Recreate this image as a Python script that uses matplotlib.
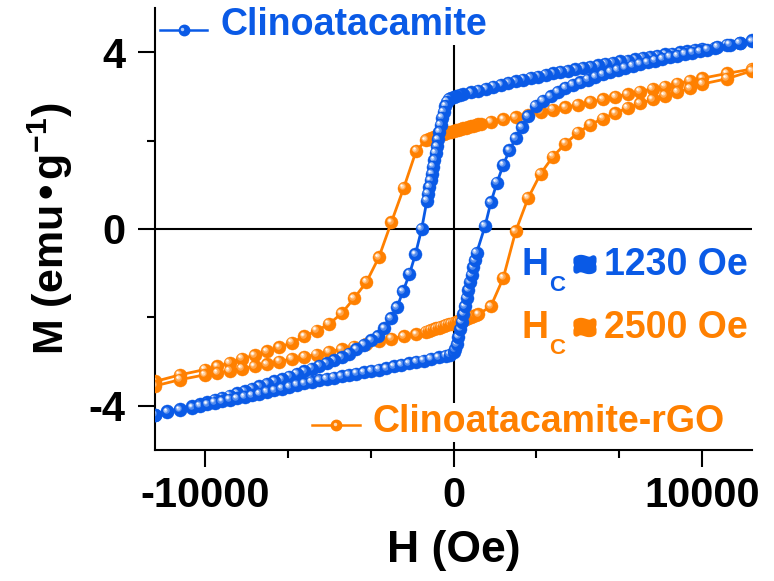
import matplotlib
matplotlib.use("Agg")
import matplotlib.pyplot as plt
from matplotlib.lines import Line2D
from matplotlib.ticker import FixedLocator, MultipleLocator
from matplotlib.transforms import offset_copy
import matplotlib.patheffects as pe
from matplotlib.colors import to_rgb

plt.rcParams['font.family'] = ['Liberation Sans', 'DejaVu Sans']
plt.rcParams['font.weight'] = 'bold'
plt.rcParams['mathtext.default'] = 'regular'
plt.rcParams['axes.unicode_minus'] = False

BLUE = '#0A5AE6'
ORANGE = '#FF8000'

# ---- Clinoatacamite (blue) ----
blue_desc_H = [12000, 11500, 11000, 10500,
               10000, 9700, 9400, 9100, 8800, 8500, 8200, 7900, 7600, 7300,
               7000, 6700, 6400, 6100, 5800, 5500, 5200, 4900, 4600, 4300,
               4000, 3700, 3400, 3100, 2800, 2500, 2200, 1900, 1600, 1300,
               1000, 700, 400,
               250, 100, 0, -100, -180, -260, -330, -400, -460, -520,
               -570, -620, -670, -720, -770, -820, -870, -920, -970, -1020, -1070,
               -1280, -1530, -1770, -2030, -2270, -2520, -2780, -3040,
               -3300, -3600, -3900, -4200, -4500, -4800, -5100, -5400, -5700, -6000,
               -6300, -6600, -6900, -7200, -7500, -7800, -8100, -8400, -8700, -9000,
               -9300, -9600, -9900, -10200,
               -10500, -11000, -11500, -12000]
blue_desc_M = [4.27, 4.21, 4.16, 4.10,
               4.07, 4.05, 4.02, 4.00, 3.97, 3.95, 3.92, 3.89, 3.87, 3.84,
               3.81, 3.79, 3.76, 3.73, 3.70, 3.67, 3.64, 3.61, 3.58, 3.55,
               3.52, 3.49, 3.45, 3.42, 3.38, 3.34, 3.30, 3.26, 3.22, 3.17,
               3.13, 3.09, 3.05,
               3.03, 3.01, 2.99, 2.97, 2.94, 2.88, 2.78, 2.65, 2.52, 2.35,
               2.20, 2.03, 1.87, 1.72, 1.56, 1.41, 1.25, 1.10, 0.95, 0.80, 0.64,
               0.00, -0.57, -1.02, -1.41, -1.77, -2.02, -2.25, -2.43,
               -2.52, -2.62, -2.72, -2.82, -2.90, -2.97, -3.04, -3.10, -3.16, -3.22,
               -3.28, -3.34, -3.40, -3.45, -3.51, -3.56, -3.62, -3.67, -3.72, -3.77,
               -3.82, -3.87, -3.92, -3.97,
               -4.01, -4.07, -4.12, -4.20]

blue_asc_H = [-12000, -11500, -11000, -10500,
              -10200, -9900, -9600, -9300, -9000, -8700, -8400, -8100, -7800, -7500,
              -7200, -6900, -6600, -6300, -6000, -5700, -5400, -5100, -4800, -4500,
              -4200, -3900, -3600, -3300, -3000, -2700, -2400, -2100, -1800, -1500,
              -1200, -900, -600, -300,
              -150, 0, 60, 130, 200, 270, 330, 400, 460, 530, 600, 670, 730, 800,
              860, 930,
              1270, 1500, 1750, 2000, 2250, 2500, 2750, 3000,
              3300, 3600, 3900, 4200, 4500, 4800, 5100, 5400, 5700, 6000,
              6300, 6600, 6900, 7200, 7500, 7800, 8100, 8400, 8700, 9000,
              9300, 9600, 9900, 10200,
              10600, 11100, 11500, 12000]
blue_asc_M = [-4.20, -4.14, -4.09, -4.04,
              -4.00, -3.97, -3.93, -3.90, -3.86, -3.83, -3.80, -3.76, -3.73, -3.69,
              -3.65, -3.61, -3.57, -3.53, -3.49, -3.46, -3.42, -3.39, -3.36, -3.33,
              -3.30, -3.27, -3.24, -3.21, -3.18, -3.15, -3.11, -3.08, -3.04, -3.01,
              -2.98, -2.94, -2.90, -2.87,
              -2.84, -2.79, -2.72, -2.61, -2.44, -2.26, -2.10, -1.92, -1.75, -1.56,
              -1.38, -1.20, -1.04, -0.87, -0.71, -0.54,
              0.07, 0.60, 1.05, 1.45, 1.78, 2.05, 2.30, 2.55,
              2.78, 2.90, 3.00, 3.10, 3.19, 3.26, 3.32, 3.38, 3.44, 3.50,
              3.55, 3.60, 3.64, 3.69, 3.73, 3.77, 3.81, 3.85, 3.89, 3.92,
              3.96, 3.99, 4.02, 4.06,
              4.12, 4.17, 4.21, 4.25]

# ---- Clinoatacamite-rGO (orange) ----
orange_desc_H = [12000, 11000, 10000, 9500, 9000, 8500, 8000, 7500, 7000, 6500,
                 6000, 5500, 5000, 4500, 4000, 3500, 3000, 2500, 2000, 1500,
                 1100, 1000, 900, 800, 700, 600, 500, 400, 300, 200, 100, 0,
                 -100, -200, -300, -400, -500, -600, -700, -800, -900, -1000, -1100,
                 -1500, -2000, -2500, -3000, -3500, -4000, -4500, -5000, -5500,
                 -6000, -6500, -7000, -7500, -8000, -8500, -9000, -9500, -10000,
                 -11000, -12000]
orange_desc_M = [3.62, 3.52, 3.41, 3.35, 3.29, 3.22, 3.17, 3.11, 3.05, 2.99,
                 2.93, 2.87, 2.81, 2.75, 2.70, 2.65, 2.59, 2.53, 2.48, 2.42,
                 2.38, 2.37, 2.35, 2.34, 2.32, 2.31, 2.29, 2.28, 2.26, 2.25, 2.23, 2.22,
                 2.20, 2.19, 2.17, 2.16, 2.14, 2.12, 2.11, 2.09, 2.07, 2.04, 2.01,
                 1.77, 0.93, 0.15, -0.64, -1.20, -1.57, -1.91, -2.15, -2.30,
                 -2.43, -2.57, -2.68, -2.77, -2.86, -2.93, -3.03, -3.11, -3.18,
                 -3.30, -3.45]

orange_asc_H = [-12000, -11000, -10000, -9500, -9000, -8500, -8000, -7500, -7000, -6500,
                -6000, -5500, -5000, -4500, -4000, -3500, -3000, -2500, -2000, -1500,
                -1100, -1000, -900, -800, -700, -600, -500, -400, -300, -200, -100,
                0, 100, 200, 300, 400, 500, 600, 700, 800, 900, 1000,
                1500, 2000, 2500, 3000, 3500, 4000, 4500, 5000, 5500,
                6000, 6500, 7000, 7500, 8000, 8500, 9000, 9500, 10000,
                11000, 12000]
orange_asc_M = [-3.55, -3.41, -3.30, -3.26, -3.21, -3.16, -3.11, -3.06, -3.00, -2.94,
                -2.89, -2.84, -2.78, -2.72, -2.66, -2.60, -2.54, -2.48, -2.43, -2.38,
                -2.32, -2.30, -2.28, -2.26, -2.25, -2.23, -2.21, -2.19, -2.17, -2.15, -2.14,
                -2.12, -2.10, -2.08, -2.06, -2.04, -2.03, -2.01, -1.99, -1.97, -1.95, -1.93,
                -1.75, -1.11, -0.05, 0.70, 1.25, 1.64, 1.93, 2.18, 2.36,
                2.50, 2.62, 2.74, 2.84, 2.93, 3.02, 3.10, 3.18, 3.28,
                3.40, 3.58]

labels = ['Clinoatacamite', 'Clinoatacamite-rGO']
hc_values = ['1230 Oe', '2500 Oe']
x_ticks = [-10000, 0, 10000]
y_ticks = [-4, 0, 4]

W, Hh = 774, 581
fig = plt.figure(figsize=(W / 100, Hh / 100), dpi=100)
ax = fig.add_axes([155 / W, 1 - 450 / Hh, 597 / W, 442 / Hh])
ax.set_xlim(-12000, 12000)
ax.set_ylim(-5, 5)


def px(x, y):
    return (x / W, 1 - y / Hh)


def lighten(c, f):
    r, g, b = to_rgb(c)
    return (r + (1 - r) * f, g + (1 - g) * f, b + (1 - b) * f)


def darken(c, f):
    r, g, b = to_rgb(c)
    return (r * (1 - f), g * (1 - f), b * (1 - f))


tr_hi1 = offset_copy(ax.transData, fig=fig, x=-1.2, y=1.2, units='points')
tr_hi2 = offset_copy(ax.transData, fig=fig, x=-1.6, y=1.6, units='points')
tr_hi3 = offset_copy(ax.transData, fig=fig, x=-1.9, y=1.9, units='points')

MS = 9.4


def sphere_series(H, M, color, z0):
    ax.plot(H, M, '-', color=color, lw=2.0, zorder=z0, solid_capstyle='round')
    mid = lighten(color, 0.3)
    light = lighten(color, 0.65)
    z = z0 + 0.001
    for h, m in zip(H, M):
        ax.plot([h], [m], 'o', ms=MS, mfc=color, mec=color, mew=0.3, zorder=z)
        ax.plot([h], [m], 'o', ms=MS * 0.5, mfc=mid, mec='none', zorder=z + 0.0001,
                transform=tr_hi1)
        ax.plot([h], [m], 'o', ms=MS * 0.32, mfc=light, mec='none', zorder=z + 0.0002,
                transform=tr_hi2)
        ax.plot([h], [m], 'o', ms=MS * 0.17, mfc='white', mec='none', zorder=z + 0.0003,
                transform=tr_hi3)
        z += 0.001


sphere_series(orange_desc_H, orange_desc_M, ORANGE, 3)
sphere_series(orange_asc_H, orange_asc_M, ORANGE, 4)
sphere_series(blue_desc_H, blue_desc_M, BLUE, 5)
sphere_series(blue_asc_H, blue_asc_M, BLUE, 6)

ax.axhline(0, color='black', lw=1.5, zorder=1)
ax.axvline(0, color='black', lw=1.5, zorder=1)

for s in ['top', 'right']:
    ax.spines[s].set_visible(False)
for s in ['left', 'bottom']:
    ax.spines[s].set_linewidth(1.5)

ax.xaxis.set_major_locator(FixedLocator(x_ticks))
ax.xaxis.set_minor_locator(MultipleLocator(10000 / 3))
ax.yaxis.set_major_locator(FixedLocator(y_ticks))
ax.yaxis.set_minor_locator(MultipleLocator(2))
ax.tick_params(axis='both', which='major', direction='out', length=12, width=1.5,
               labelsize=30)
ax.tick_params(axis='both', which='minor', direction='out', length=6, width=1.5)
ax.tick_params(axis='x', which='major', pad=7)
ax.tick_params(axis='y', which='major', pad=9)
for lab in ax.get_xticklabels() + ax.get_yticklabels():
    lab.set_fontweight('bold')

ax.set_xlabel('H (Oe)', fontsize=32, fontweight='bold', labelpad=10)
ax.set_ylabel('M (emu•g$^{-1}$)', fontsize=31, fontweight='bold', labelpad=10)


def legend_entry(x0, x1, y, tx, ty, text, color):
    fig.add_artist(Line2D([x0 / W, x1 / W], [1 - y / Hh, 1 - y / Hh], color=color,
                          lw=1.8, transform=fig.transFigure, zorder=20))
    xm = (x0 + x1) / 2
    fig.add_artist(Line2D([xm / W], [1 - y / Hh], marker='o', ms=7.5, color=color,
                          mec=color, transform=fig.transFigure, zorder=21))
    fig.add_artist(Line2D([(xm - 1.5) / W], [1 - (y - 1.5) / Hh], marker='o', ms=2.5,
                          color=lighten(color, 0.7), mec='none',
                          transform=fig.transFigure, zorder=22))
    fig.text(*px(tx, ty), text, color=color, fontsize=27, fontweight='bold',
             ha='left', va='baseline', zorder=19,
             bbox=dict(facecolor='white', edgecolor='none', pad=1))


legend_entry(160, 207, 30, 220, 35, labels[0], BLUE)
legend_entry(312, 360, 425, 372, 432, labels[1], ORANGE)


def hc_text(y_base, value, color):
    fig.text(*px(522, y_base), 'H', color=color, fontsize=27, fontweight='bold',
             ha='left', va='baseline')
    fig.text(*px(549, y_base + 16), 'C', color=color, fontsize=16, fontweight='bold',
             ha='left', va='baseline')
    fig.text(*px(585, y_base - 8), '≈', color=color, fontsize=24, fontweight='bold',
             ha='center', va='center',
             path_effects=[pe.withStroke(linewidth=4.5, foreground=color)])
    fig.text(*px(604, y_base), value, color=color, fontsize=27, fontweight='bold',
             ha='left', va='baseline')


hc_text(275, hc_values[0], BLUE)
hc_text(338, hc_values[1], ORANGE)

fig.savefig('out.png', dpi=100)
